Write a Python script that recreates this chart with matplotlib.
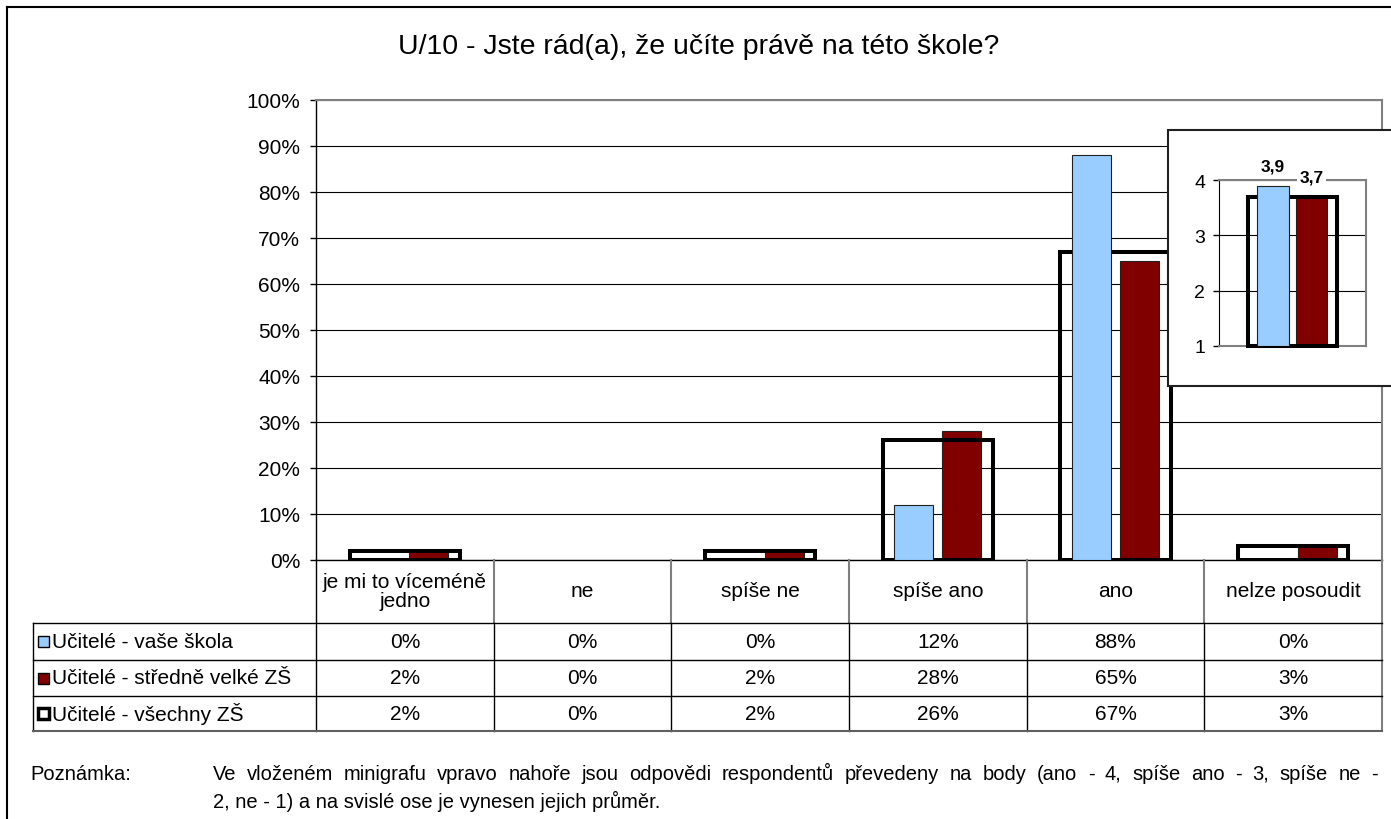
import matplotlib
matplotlib.use('Agg')
import matplotlib.pyplot as plt
from matplotlib.lines import Line2D
from matplotlib.patches import Rectangle
import numpy as np

plt.rcParams['font.family'] = ['Liberation Sans', 'DejaVu Sans']

# ---------------- data ----------------
title = 'U/10 - Jste rád(a), že učíte právě na této škole?'
categories = ['je mi to víceméně\njedno', 'ne', 'spíše ne', 'spíše ano', 'ano', 'nelze posoudit']
series_names = ['Učitelé - vaše škola', 'Učitelé - středně velké ZŠ', 'Učitelé - všechny ZŠ']
vase_skola = [0, 0, 0, 12, 88, 0]
stredne_velke = [2, 0, 2, 28, 65, 3]
vsechny = [2, 0, 2, 26, 67, 3]
y_ticks = [0, 10, 20, 30, 40, 50, 60, 70, 80, 90, 100]

mean_vase = 3.9
mean_stredne = 3.7
mean_vsechny = 3.7
inset_ticks = [1, 2, 3, 4]

note_label = 'Poznámka:'
note_lines = ['Ve vloženém minigrafu vpravo nahoře jsou odpovědi respondentů převedeny na body (ano - 4, spíše ano - 3, spíše ne -',
              '2, ne - 1) a na svislé ose je vynesen jejich průměr.']

# ---------------- layout helpers ----------------
W, H = 1391, 820
def fx(x):
    return x / W
def fy(y):
    return 1 - y / H

BLUE = '#99CCFF'
RED = '#800000'
FS = 15
NFS = 14.5

fig = plt.figure(figsize=(W / 100, H / 100), dpi=100)

PL, PR, PT, PB = 316, 1382, 101, 561
ax = fig.add_axes([fx(PL), fy(PB), fx(PR) - fx(PL), fy(PT) - fy(PB)])
x = np.arange(len(categories))

def lws(vals, lw):
    return [lw if v > 0 else 0 for v in vals]

ax.bar(x + 0.135, stredne_velke, width=0.22, color=RED, edgecolor='#202020', linewidth=lws(stredne_velke, 0.8), zorder=2)
ax.bar(x, vsechny, width=0.62, fill=False, edgecolor='black', linewidth=lws(vsechny, 2.9), zorder=3)
ax.bar(x - 0.135, vase_skola, width=0.22, color=BLUE, edgecolor='#202020', linewidth=lws(vase_skola, 0.8), zorder=4)
ax.set_xlim(-0.5, len(categories) - 0.5)
ax.set_ylim(0, 100)
ax.set_yticks(y_ticks)
ax.set_yticklabels([f'{v}%' for v in y_ticks])
ax.set_xticks([])
ax.yaxis.grid(True, color='black', linewidth=0.8)
ax.set_axisbelow(True)
for s in ['top', 'right']:
    ax.spines[s].set_color('#808080')
    ax.spines[s].set_linewidth(1.5)
for s in ['left', 'bottom']:
    ax.spines[s].set_color('black')
    ax.spines[s].set_linewidth(1.0)
ax.tick_params(axis='y', length=4.5, width=1, pad=7, labelsize=FS, direction='out')

# ---------------- title ----------------
fig.text(fx(699), fy(47), title, ha='center', va='center', fontsize=20.5)

# ---------------- data table ----------------
ncol = len(categories)
colw = (PR - PL) / ncol
bounds = [PL + i * colw for i in range(ncol + 1)]
TL = 33
row_lines = [624, 661, 697, 732]
row_centers = [(row_lines[i] + row_lines[i + 1]) / 2 for i in range(3)]

def hline(y, x0, x1, color='black', lw=1.0):
    fig.add_artist(Line2D([fx(x0), fx(x1)], [fy(y), fy(y)], color=color, linewidth=lw, transform=fig.transFigure))

def vline(x0, y0, y1, color='black', lw=1.0):
    fig.add_artist(Line2D([fx(x0), fx(x0)], [fy(y0), fy(y1)], color=color, linewidth=lw, transform=fig.transFigure))

for b in bounds[1:-1]:
    vline(b, PB, row_lines[0], color='#808080', lw=1.5)
    vline(b, row_lines[0], row_lines[-1])
vline(PL, PB, row_lines[-1])
vline(PR, PB, row_lines[-1], color='#808080', lw=1.5)
vline(TL, row_lines[0], row_lines[-1])
for y in row_lines[:-1]:
    hline(y, TL, PR)
hline(row_lines[-1], TL, PR, color='#606060', lw=1.5)

for i, c in enumerate(categories):
    cx = (bounds[i] + bounds[i + 1]) / 2
    fig.text(fx(cx), fy(592), c, ha='center', va='center', fontsize=FS, linespacing=1.0)

for r, vals in enumerate([vase_skola, stredne_velke, vsechny]):
    for i, v in enumerate(vals):
        cx = (bounds[i] + bounds[i + 1]) / 2
        fig.text(fx(cx), fy(row_centers[r]), f'{v}%', ha='center', va='center', fontsize=FS)

legend_styles = [dict(facecolor=BLUE, edgecolor='black', linewidth=1.0),
                 dict(facecolor=RED, edgecolor='black', linewidth=1.0),
                 dict(facecolor='white', edgecolor='black', linewidth=2.5)]
for r, name in enumerate(series_names):
    yc = row_centers[r]
    fig.add_artist(Rectangle((fx(38), fy(yc + 5.5)), fx(11), 11 / H, transform=fig.transFigure, **legend_styles[r]))
    fig.text(fx(52), fy(yc), name, ha='left', va='center', fontsize=FS)

# ---------------- note (first line justified) ----------------
B1, B2 = 780, 808
fig.text(fx(30), fy(B1), note_label, ha='left', va='baseline', fontsize=NFS)
renderer = fig.canvas.get_renderer()
words = note_lines[0].split(' ')
word_texts = [fig.text(0, fy(B1), w, ha='left', va='baseline', fontsize=NFS) for w in words]
widths = [t.get_window_extent(renderer).width for t in word_texts]
x0, x1 = 213, 1378
gap = (x1 - x0 - sum(widths)) / (len(words) - 1)
cur = x0
for t, wd in zip(word_texts, widths):
    t.set_x(fx(cur))
    cur += wd + gap
fig.text(fx(213), fy(B2), note_lines[1], ha='left', va='baseline', fontsize=NFS)

# ---------------- outer frame ----------------
fig.add_artist(Line2D([fx(7), fx(7)], [fy(8), fy(830)], color='black', linewidth=1.5, transform=fig.transFigure))
fig.add_artist(Line2D([fx(7), fx(1400)], [fy(8), fy(8)], color='black', linewidth=1.5, transform=fig.transFigure))

# ---------------- inset ----------------
box = Rectangle((fx(1168), fy(387)), fx(1400) - fx(1168), (387 - 131) / H, transform=fig.transFigure,
                facecolor='white', edgecolor='#202020', linewidth=1.5, zorder=5)
fig.add_artist(box)

IL, IR, IT, IB = 1219, 1366, 181, 347
ax2 = fig.add_axes([fx(IL), fy(IB), fx(IR) - fx(IL), fy(IT) - fy(IB)], zorder=6)
ax2.patch.set_alpha(0)
ax2.bar([0.129], [mean_stredne - 1], bottom=1, width=0.21, color=RED, edgecolor='#202020', linewidth=0.8, zorder=2)
ax2.bar([0], [mean_vsechny - 1], bottom=1, width=0.61, fill=False, edgecolor='black', linewidth=2.9, zorder=3, clip_on=False)
ax2.bar([-0.133], [mean_vase - 1], bottom=1, width=0.218, color=BLUE, edgecolor='#202020', linewidth=0.8, zorder=4)
ax2.set_xlim(-0.5, 0.5)
ax2.set_ylim(1, 4)
ax2.set_yticks(inset_ticks)
ax2.set_xticks([])
ax2.yaxis.grid(True, color='black', linewidth=0.8)
ax2.set_axisbelow(True)
for s in ['top', 'right', 'bottom']:
    ax2.spines[s].set_color('#808080')
    ax2.spines[s].set_linewidth(1.5)
ax2.spines['left'].set_color('black')
ax2.tick_params(axis='y', length=4, width=1, pad=6, labelsize=14)
for xv, v in [(-0.133, mean_vase), (0.129, mean_stredne)]:
    ax2.annotate(f'{v:.1f}'.replace('.', ','), xy=(xv, v), xytext=(0, 11), textcoords='offset points',
                 ha='center', va='baseline', fontsize=12.5, fontweight='bold', zorder=10,
                 bbox=dict(boxstyle='square,pad=0.15', facecolor='white', edgecolor='none'),
                 annotation_clip=False)

fig.savefig('out.png', dpi=100)
